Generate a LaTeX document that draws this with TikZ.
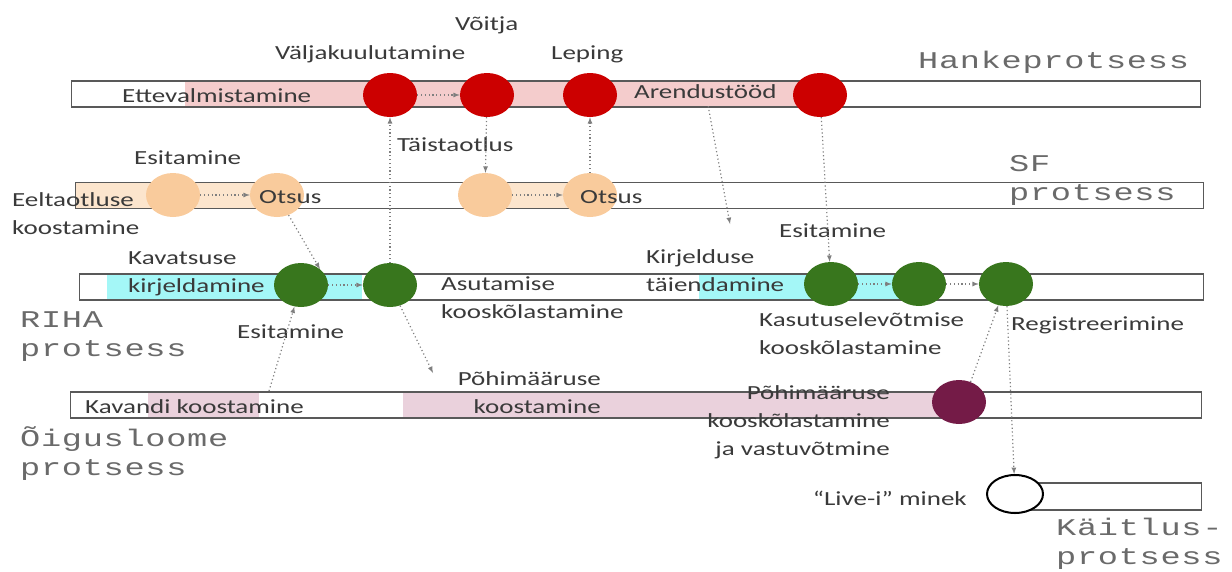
\documentclass[tikz,border=0pt]{standalone}
\usepackage{fontspec}
\setmainfont{Carlito}[FakeStretch=1.35]
\newfontfamily\procfont{Liberation Mono}[FakeStretch=1.4, LetterSpace=3]
\usetikzlibrary{arrows,shapes,positioning}
\definecolor{hankebg}{HTML}{F4CCCC}
\definecolor{hankered}{HTML}{CC0000}
\definecolor{sfbg}{HTML}{FCE5CD}
\definecolor{sfdot}{HTML}{F9CB9C}
\definecolor{rihabg}{HTML}{A4F7F7}
\definecolor{rihagreen}{HTML}{38761D}
\definecolor{lawbg}{HTML}{EAD1DC}
\definecolor{lawdot}{HTML}{741B47}
\definecolor{txtgray}{HTML}{3A3A3A}
\definecolor{procgray}{HTML}{6A6A6A}
\definecolor{arrowgray}{HTML}{7F7F7F}

\begin{document}
\begin{tikzpicture}[x=1pt,y=-1pt]
\tikzstyle{lane}=[rectangle, draw=black!65, line width=1.2pt, inner sep=0, minimum height=26pt, anchor=west]
\tikzstyle{band}=[rectangle, inner sep=0, minimum height=26pt, anchor=west]
\tikzstyle{stage}=[ellipse, inner sep=0, minimum width=54pt, minimum height=44pt]
\tikzstyle{redpt}=[stage, fill=hankered]
\tikzstyle{sfpt}=[stage, fill=sfdot]
\tikzstyle{rihapt}=[stage, fill=rihagreen]
\tikzstyle{lbl}=[inner sep=0, align=left, text=txtgray, font=\fontsize{20}{28}\selectfont]
\tikzstyle{proc}=[lbl, text=procgray, font=\procfont\fontsize{24}{29}\selectfont]
\tikzstyle{connect}=[-latex, dash pattern=on 1.2pt off 2.6pt, line width=1.2pt, draw=arrowgray]

\useasboundingbox (0,0) rectangle (1232,571);

  % background bands
  \node[band, fill=hankebg, minimum width=615pt] (prepband) at (185,94) {};
  \node[band, fill=sfbg, minimum width=200pt] (preband) at (75,195.5) {};
  \node[band, fill=sfbg, minimum width=104pt] (fullband) at (486,195.5) {};
  \node[band, fill=rihabg, minimum width=255pt] (intentband) at (107,286) {};
  \node[band, fill=rihabg, minimum width=207pt] (refineband) at (699,286) {};
  \node[band, fill=lawbg, minimum width=111pt] (draftband) at (148,405) {};
  \node[band, fill=lawbg, minimum width=556pt] (statuteband) at (403,405) {};

  % lanes
  \node[lane, minimum width=1129pt] (hanke) at (71,94) {};
  \node[lane, minimum width=1128pt] (sf) at (75,195.5) {};
  \node[lane, minimum width=1124pt] (riha) at (79,287) {};
  \node[lane, minimum width=1131pt] (law) at (70,405) {};
  \node[lane, minimum width=186pt, minimum height=27pt] (ops) at (1015,496.5) {};

  % stages
  \node[redpt] (call) at (390,95) {};
  \node[redpt] (win)   [right of=call, node distance=97pt] {};
  \node[redpt] (sign)  [right of=win, node distance=103pt] {};
  \node[redpt] (deliv) [right of=sign, node distance=230pt] {};

  \node[sfpt] (pre) at (173,195) {};
  \node[sfpt] (dec)  [right of=pre, node distance=104pt] {};
  \node[sfpt] (full) at (485,195) {};
  \node[sfpt] (dec2) [right of=full, node distance=105pt] {};

  \node[rihapt] (intent) at (301,285) {};
  \node[rihapt] (found)  [right of=intent, node distance=89pt] {};
  \node[rihapt] (submit) at (831,284) {};
  \node[rihapt] (use)    [right of=submit, node distance=88pt] {};
  \node[rihapt] (reg)    [right of=use, node distance=87pt] {};

  \node[stage, fill=lawdot] (adopt) at (959,402) {};
  \node[stage, draw=black, line width=2pt, fill=white, minimum width=56pt, minimum height=38pt] (live) at (1015,494) {};

  % labels (base = last line)
  \node[lbl, anchor=base west] (calllbl) at (275,59) {Väljakuulutamine};
  \node[lbl, anchor=base west] (winlbl) at (455,30) {Võitja};
  \node[lbl, anchor=base west] (signlbl) at (551,59) {Leping};
  \node[lbl, anchor=base west] (prep) at (122,102) {Ettevalmistamine};
  \node[lbl, anchor=base west] (dev) at (634,98) {Arendustööd};
  \node[proc, anchor=base west] (hankelbl) at (918,68) {Hankeprotsess};

  \node[lbl, anchor=base west] (prelbl) at (134,164) {Esitamine};
  \node[lbl, anchor=base west] (prewrite) at (12,234) {Eeltaotluse\\koostamine};
  \node[lbl, anchor=base west] (declbl) at (259,203) {Otsus};
  \node[lbl, anchor=base west] (fulllbl) at (397,151) {Täistaotlus};
  \node[lbl, anchor=base west] (dec2lbl) at (580,203) {Otsus};
  \node[proc, anchor=base west] (sflbl) at (1009,200) {SF\\protsess};

  \node[lbl, anchor=base west] (intentlbl) at (128,292) {Kavatsuse\\kirjeldamine};
  \node[lbl, anchor=base west] (foundlbl) at (441,318) {Asutamise\\kooskõlastamine};
  \node[lbl, anchor=base west] (intentsub) at (237,338) {Esitamine};
  \node[lbl, anchor=base west] (refine) at (646,291) {Kirjelduse\\täiendamine};
  \node[lbl, anchor=base west] (submitlbl) at (779,237) {Esitamine};
  \node[lbl, anchor=base west] (uselbl) at (759,354) {Kasutuselevõtmise\\kooskõlastamine};
  \node[lbl, anchor=base west] (reglbl) at (1011,330) {Registreerimine};
  \node[proc, anchor=base west] (rihalbl) at (20,356) {RIHA\\protsess};

  \node[lbl, anchor=base west] (draft) at (85,413) {Kavandi koostamine};
  \node[lbl, anchor=base east, align=right] (statute) at (601,413) {Põhimääruse\\koostamine};
  \node[lbl, anchor=base east, align=right] (adoptlbl) at (890,455) {Põhimääruse\\kooskõlastamine\\ja vastuvõtmine};
  \node[proc, anchor=base west] (lawlbl) at (20,475) {Õigusloome\\protsess};

  \node[lbl, anchor=base east] (livelbl) at (967,505) {“Live-i” minek};
  \node[proc, anchor=base west] (opslbl) at (1056,564) {Käitlus-\\protsess};

  % free ends
  \coordinate (refinetip) at (730,224);
  \coordinate (draftsrc) at (269,391);
  \coordinate (statutetip) at (433,373);

  % connectors
  \path (call) edge [connect] (win);
  \path (win) edge [connect] (full);
  \path (dec2) edge [connect] (sign);
  \path (found) edge [connect] (call);
  \path (dev) edge [connect, shorten <=8pt] (refinetip);
  \path (deliv) edge [connect] (submit);

  \path (pre) edge [connect] (dec);
  \path (full) edge [connect] (dec2);
  \path (dec.-60) edge [connect] (intent.40);

  \path (intent) edge [connect] (found);
  \path (submit) edge [connect] (use);
  \path (use) edge [connect] (reg);
  \path (draftsrc) edge [connect] (intent);
  \path (found) edge [connect] (statutetip);
  \path (adopt.60) edge [connect] (reg);
  \path (reg) edge [connect] (live);

\end{tikzpicture}
\end{document}
